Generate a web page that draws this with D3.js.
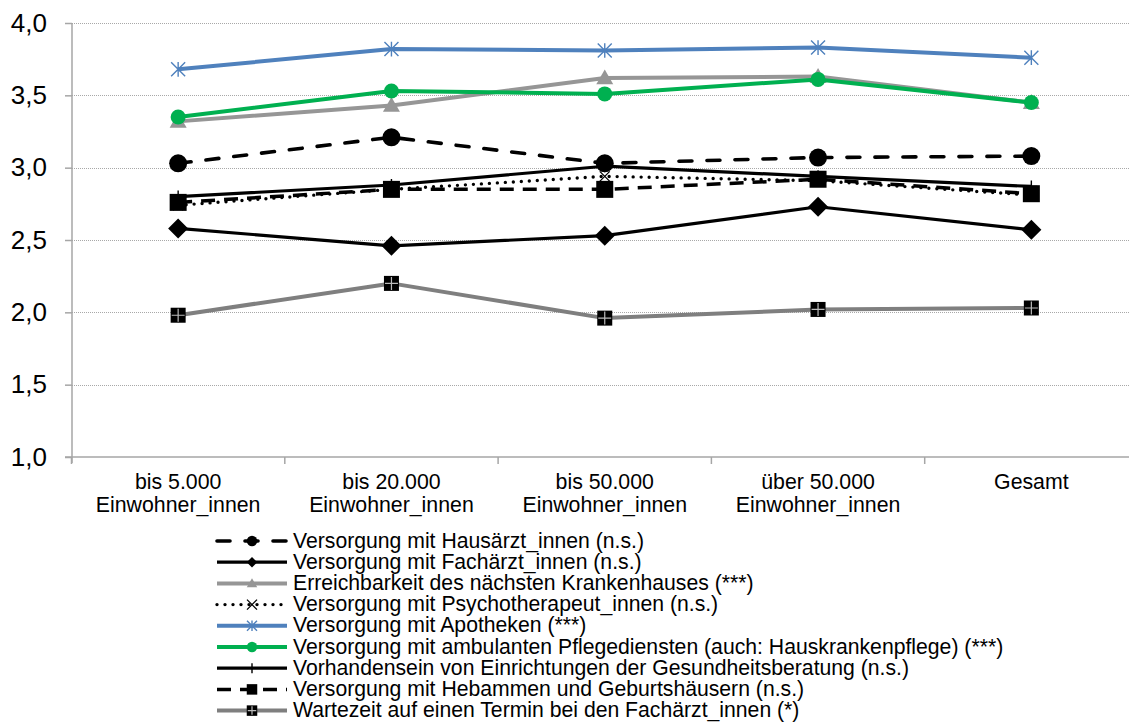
<!DOCTYPE html>
<html>
<head>
<meta charset="utf-8">
<script src="https://cdn.jsdelivr.net/npm/d3@7"></script>
<style>
  html, body { margin: 0; padding: 0; background: #fff; }
  svg { display: block; font-family: "Liberation Sans", Arial, sans-serif; }
</style>
</head>
<body>
<svg id="chart" width="1129" height="722"></svg>
<script>
// ---------- data ----------
const categories = ["bis 5.000|Einwohner_innen", "bis 20.000|Einwohner_innen", "bis 50.000|Einwohner_innen", "über 50.000|Einwohner_innen", "Gesamt"];
const yTicks = [1.0, 1.5, 2.0, 2.5, 3.0, 3.5, 4.0];

const seriesNames = [
  "Versorgung mit Hausärzt_innen (n.s.)",
  "Versorgung mit Fachärzt_innen (n.s.)",
  "Erreichbarkeit des nächsten Krankenhauses (***)",
  "Versorgung mit Psychotherapeut_innen (n.s.)",
  "Versorgung mit Apotheken (***)",
  "Versorgung mit ambulanten Pflegediensten (auch: Hauskrankenpflege) (***)",
  "Vorhandensein von Einrichtungen der Gesundheitsberatung (n.s.)",
  "Versorgung mit Hebammen und Geburtshäusern (n.s.)",
  "Wartezeit auf einen Termin bei den Fachärzt_innen (*)"
];
const hausaerzte      = [3.03, 3.21, 3.03, 3.07, 3.08];
const fachaerzte      = [2.58, 2.46, 2.53, 2.73, 2.57];
const krankenhaus     = [3.32, 3.43, 3.62, 3.63, 3.45];
const psychotherapie  = [2.74, 2.85, 2.94, 2.91, 2.81];
const apotheken       = [3.68, 3.82, 3.81, 3.83, 3.76];
const pflegedienste   = [3.35, 3.53, 3.51, 3.61, 3.45];
const beratung        = [2.80, 2.88, 3.01, 2.94, 2.87];
const hebammen        = [2.76, 2.85, 2.85, 2.92, 2.82];
const wartezeit       = [1.98, 2.20, 1.96, 2.02, 2.03];
const seriesValues = [hausaerzte, fachaerzte, krankenhaus, psychotherapie, apotheken, pflegedienste, beratung, hebammen, wartezeit];

// ---------- styles ----------
const styles = [
  { color: "#000", width: 3.6, dash: "13,15", cap: "round", marker: "circle", size: 9 },
  { color: "#000", width: 3.2, dash: null, cap: "butt", marker: "diamond", size: 10 },
  { color: "#969696", width: 4, dash: null, cap: "butt", marker: "triangle", size: 8.5 },
  { color: "#000", width: 3.4, dash: "0,8", cap: "round", marker: "x", size: 5 },
  { color: "#4f81bd", width: 4, dash: null, cap: "butt", marker: "star", size: 7 },
  { color: "#00b050", width: 4, dash: null, cap: "butt", marker: "circle", size: 7.5 },
  { color: "#000", width: 3.2, dash: null, cap: "butt", marker: "plus", size: 6 },
  { color: "#000", width: 3.5, dash: "14,9", cap: "butt", marker: "square", size: 8.5 },
  { color: "#7f7f7f", width: 4, dash: null, cap: "butt", marker: "squareplus", size: 7.5 }
];

const svg = d3.select("#chart");
const x = d3.scaleBand().domain(categories).range([71.5, 1138]).paddingInner(0).paddingOuter(0);
const y = d3.scaleLinear().domain([1, 4]).range([457, 23]);
const cx = c => x(c) + x.bandwidth() / 2;

// gridlines
svg.append("g").selectAll("line").data(yTicks.filter(t => t > 1)).join("line")
  .attr("x1", 72).attr("x2", 1129)
  .attr("y1", d => Math.round(y(d)) + 0.5).attr("y2", d => Math.round(y(d)) + 0.5)
  .attr("stroke", "#a8a8a8").attr("stroke-width", 1).attr("stroke-dasharray", "1,1");

// y axis
const yAxis = svg.append("g").attr("transform", "translate(72,0)")
  .call(d3.axisLeft(y).tickValues(yTicks).tickSize(7).tickPadding(9)
    .tickFormat(d => d3.format(".1f")(d).replace(".", ",")));
yAxis.select(".domain").attr("stroke", "#a6a6a6").attr("stroke-width", 1.5).attr("d", "M0,23V463");
yAxis.selectAll(".tick line").attr("stroke", "#a6a6a6").attr("stroke-width", 1.5);
yAxis.selectAll(".tick text").attr("font-size", 26).attr("fill", "#000")
  .attr("font-family", "'Liberation Sans', Arial, sans-serif").attr("x", -25);

// x axis
const xAxisG = svg.append("g").attr("transform", "translate(0,457)");
xAxisG.append("line").attr("x1", 65).attr("x2", 1129).attr("y1", 0).attr("y2", 0)
  .attr("stroke", "#a6a6a6").attr("stroke-width", 1.5);
const bounds = categories.map(c => x(c)).concat([x(categories[categories.length - 1]) + x.bandwidth()]);
xAxisG.selectAll("line.tk").data(bounds).join("line").attr("class", "tk")
  .attr("x1", d => d).attr("x2", d => d).attr("y1", 0).attr("y2", 7)
  .attr("stroke", "#a6a6a6").attr("stroke-width", 1.5);
const xl = xAxisG.selectAll("text").data(categories).join("text")
  .attr("x", d => cx(d)).attr("y", 32).attr("text-anchor", "middle")
  .attr("font-size", 21.3).attr("fill", "#000");
xl.each(function(d) {
  const parts = d.split("|");
  const t = d3.select(this);
  parts.forEach((p, i) => t.append("tspan").attr("x", cx(d)).attr("dy", i === 0 ? 0 : 23).text(p));
});

// marker drawing
function drawMarker(g, type, px, py, s, color) {
  switch (type) {
    case "circle":
      g.append("circle").attr("cx", px).attr("cy", py).attr("r", s).attr("fill", color);
      break;
    case "diamond":
      g.append("path").attr("d", `M${px},${py - s}L${px + s},${py}L${px},${py + s}L${px - s},${py}Z`).attr("fill", color);
      break;
    case "triangle":
      g.append("path").attr("d", `M${px},${py - s}L${px + s},${py + s * 0.75}L${px - s},${py + s * 0.75}Z`).attr("fill", color);
      break;
    case "x":
      g.append("path").attr("d", `M${px - s},${py - s}L${px + s},${py + s}M${px + s},${py - s}L${px - s},${py + s}`)
        .attr("stroke", color).attr("stroke-width", 1.3).attr("fill", "none");
      break;
    case "star":
      g.append("path").attr("d", `M${px - s},${py - s}L${px + s},${py + s}M${px + s},${py - s}L${px - s},${py + s}M${px},${py - s * 1.05}L${px},${py + s * 1.05}`)
        .attr("stroke", color).attr("stroke-width", 1.4).attr("fill", "none");
      break;
    case "plus":
      g.append("path").attr("d", `M${px - s},${py}L${px + s},${py}M${px},${py - s}L${px},${py + s}`)
        .attr("stroke", color).attr("stroke-width", 1.4).attr("fill", "none");
      break;
    case "square":
      g.append("rect").attr("x", px - s).attr("y", py - s).attr("width", 2 * s).attr("height", 2 * s).attr("fill", color);
      break;
    case "squareplus":
      g.append("rect").attr("x", px - s).attr("y", py - s).attr("width", 2 * s).attr("height", 2 * s).attr("fill", "#000");
      g.append("path").attr("d", `M${px - s + 1},${py}L${px + s - 1},${py}M${px},${py - s + 1}L${px},${py + s - 1}`)
        .attr("stroke", "#bbb").attr("stroke-width", 1.2);
      break;
  }
}

// series
const line = d3.line().x((d, i) => cx(categories[i])).y(d => y(d));
const plot = svg.append("g");
seriesValues.forEach((vals, si) => {
  const st = styles[si];
  const g = plot.append("g");
  g.append("path").datum(vals).attr("d", line).attr("fill", "none")
    .attr("stroke", st.color).attr("stroke-width", st.width)
    .attr("stroke-linecap", st.cap).attr("stroke-linejoin", "round")
    .attr("stroke-dasharray", st.dash);
  vals.forEach((v, i) => drawMarker(g, st.marker, cx(categories[i]), y(v), st.size, st.color));
});

// legend
const leg = svg.append("g");
const legY0 = 541, legDy = 21.2;
seriesNames.forEach((name, i) => {
  const st = styles[i];
  const yy = legY0 + i * legDy;
  const g = leg.append("g");
  g.append("line").attr("x1", 217).attr("x2", 287).attr("y1", yy).attr("y2", yy)
    .attr("stroke", st.color).attr("stroke-width", st.width)
    .attr("stroke-linecap", st.cap).attr("stroke-dasharray", st.dash);
  const ms = Math.min(st.size, 7) * 0.75;
  drawMarker(g, st.marker, 252, yy, st.marker === "plus" || st.marker === "x" || st.marker === "star" ? 5 : ms, st.color);
  g.append("text").attr("x", 293).attr("y", yy + 6.5).attr("font-size", 21.2).attr("fill", "#000").text(name);
});
</script>
</body>
</html>
